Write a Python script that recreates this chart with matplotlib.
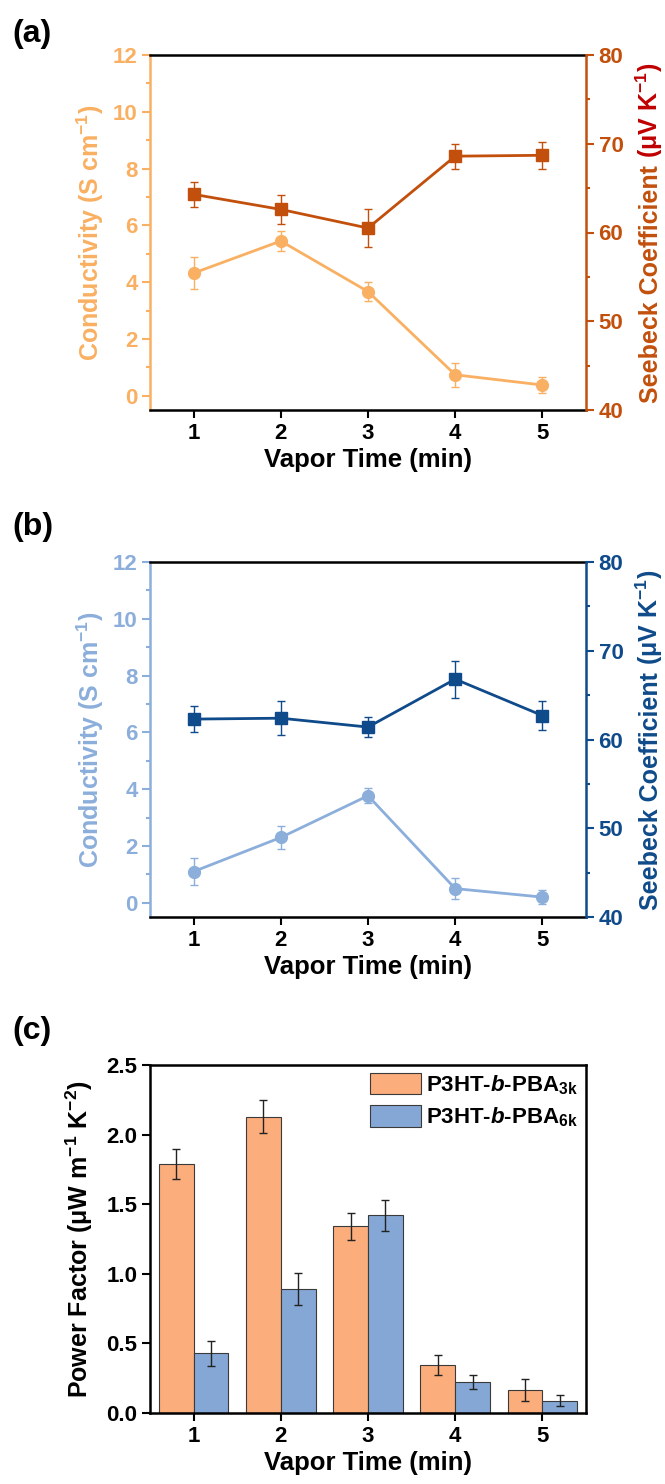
import numpy as np
import matplotlib
matplotlib.use('Agg')
import matplotlib.pyplot as plt
from matplotlib.ticker import MultipleLocator, FormatStrFormatter

plt.rcParams['font.family'] = ['Liberation Sans', 'DejaVu Sans']
plt.rcParams['font.weight'] = 'bold'
plt.rcParams['mathtext.fontset'] = 'custom'
plt.rcParams['mathtext.rm'] = 'Liberation Sans:bold'
plt.rcParams['mathtext.it'] = 'Liberation Sans:bold:italic'
plt.rcParams['mathtext.bf'] = 'Liberation Sans:bold'

# data
vapor_time = [1, 2, 3, 4, 5]

cond_3k = [4.32, 5.45, 3.67, 0.74, 0.38]
cond_3k_err = [0.55, 0.35, 0.32, 0.42, 0.29]
seebeck_3k = [64.3, 62.6, 60.5, 68.6, 68.7]
seebeck_3k_err = [1.4, 1.6, 2.1, 1.4, 1.5]

cond_6k = [1.10, 2.30, 3.77, 0.50, 0.20]
cond_6k_err = [0.47, 0.39, 0.27, 0.37, 0.25]
seebeck_6k = [62.3, 62.4, 61.4, 66.8, 62.7]
seebeck_6k_err = [1.5, 1.9, 1.1, 2.1, 1.6]

pf_3k = [1.79, 2.13, 1.34, 0.345, 0.165]
pf_3k_err = [0.11, 0.12, 0.095, 0.07, 0.08]
pf_6k = [0.43, 0.89, 1.42, 0.222, 0.087]
pf_6k_err = [0.09, 0.117, 0.11, 0.05, 0.04]

legend_labels = [r'P3HT-$\mathit{b}$-PBA$_{\mathrm{3k}}$',
                 r'P3HT-$\mathit{b}$-PBA$_{\mathrm{6k}}$']

W, H = 665, 1484
TICK_FS = 16
LABEL_FS = 18.5


def px_rect(left, top, right, bottom):
    return [left / W, 1 - bottom / H, (right - left) / W, (bottom - top) / H]


def right_label(fig, ax, parts, x_px, fs):
    texts = [fig.text(x_px / W, 0, s, color=c, rotation=90, rotation_mode='anchor',
                      ha='left', va='baseline', fontsize=fs, fontweight='bold')
             for s, c in parts]
    fig.canvas.draw()
    r = fig.canvas.get_renderer()
    lengths = [t.get_window_extent(r).height for t in texts]
    gap = 0.28 * fs * fig.dpi / 72
    total = sum(lengths) + gap * (len(texts) - 1)
    bb = ax.get_position()
    y = (bb.y0 + bb.height / 2) * H - total / 2
    for t, L in zip(texts, lengths):
        t.set_y(y / H)
        y += L + gap


def dual_panel(ax, cond, cond_err, seeb, seeb_err, c_light, c_dark):
    ax.errorbar(vapor_time, cond, yerr=cond_err, fmt='none', ecolor=c_light,
                elinewidth=1, capsize=3, capthick=1, zorder=2)
    ax.plot(vapor_time, cond, 'o-', color=c_light, ms=8.5, lw=2, zorder=3)
    ax.set_xlim(0.5, 5.5)
    ax.set_ylim(-0.5, 12)
    ax.set_xticks(vapor_time)
    ax.set_yticks(range(0, 13, 2))
    ax.yaxis.set_minor_locator(MultipleLocator(1))
    ax.tick_params(axis='y', which='both', colors=c_light, direction='out',
                   labelsize=TICK_FS, width=1.5, pad=3)
    ax.tick_params(axis='y', which='major', length=6)
    ax.tick_params(axis='y', which='minor', length=3)
    ax.tick_params(axis='x', direction='out', length=6, width=1.5, labelsize=TICK_FS)
    for s in ['top', 'bottom']:
        ax.spines[s].set_linewidth(1.8)
    ax.spines['left'].set_color(c_light)
    ax.spines['left'].set_linewidth(1.8)
    ax.spines['right'].set_visible(False)
    ax.set_xlabel('Vapor Time (min)', fontsize=LABEL_FS, fontweight='bold', labelpad=3)
    ax.set_ylabel('Conductivity (S cm$^{-1}$)', fontsize=18,
                  fontweight='bold', color=c_light)
    ax.yaxis.set_label_coords(-0.1, 0.5)

    ax2 = ax.twinx()
    ax2.errorbar(vapor_time, seeb, yerr=seeb_err, fmt='none', ecolor=c_dark,
                 elinewidth=1, capsize=3, capthick=1, zorder=2)
    ax2.plot(vapor_time, seeb, 's-', color=c_dark, ms=8, lw=2, zorder=3)
    ax2.set_ylim(40, 80)
    ax2.set_yticks(range(40, 81, 10))
    ax2.yaxis.set_minor_locator(MultipleLocator(5))
    ax2.tick_params(axis='y', which='both', colors=c_dark, direction='out',
                    labelsize=TICK_FS, width=1.5, pad=3)
    ax2.tick_params(axis='y', which='major', length=6)
    ax2.tick_params(axis='y', which='minor', length=3)
    for s in ['left', 'top', 'bottom']:
        ax2.spines[s].set_visible(False)
    ax2.spines['right'].set_color(c_dark)
    ax2.spines['right'].set_linewidth(1.8)
    return ax2


fig = plt.figure(figsize=(W / 100, H / 100), dpi=100)

light_orange = '#F9B062'
dark_orange = '#C2500C'
unit_red = '#C00000'
light_blue = '#8BAEDB'
navy = '#0F4A8A'
bar_orange = '#FBAD7C'
bar_blue = '#85A7D5'

# (a)
ax_a = fig.add_axes(px_rect(150, 55, 586, 410))
dual_panel(ax_a, cond_3k, cond_3k_err, seebeck_3k, seebeck_3k_err, light_orange, dark_orange)

# (b)
ax_b = fig.add_axes(px_rect(150, 562, 586, 917))
dual_panel(ax_b, cond_6k, cond_6k_err, seebeck_6k, seebeck_6k_err, light_blue, navy)

# (c)
ax_c = fig.add_axes(px_rect(150, 1065, 586, 1413))
x = np.array(vapor_time)
w = 0.4
ekw = dict(elinewidth=1, ecolor='#222222', capthick=1)
ax_c.bar(x - w / 2, pf_3k, w, yerr=pf_3k_err, color=bar_orange, edgecolor='#3a3a3a',
         linewidth=0.8, capsize=3, error_kw=ekw, label=legend_labels[0])
ax_c.bar(x + w / 2, pf_6k, w, yerr=pf_6k_err, color=bar_blue, edgecolor='#3a3a3a',
         linewidth=0.8, capsize=3, error_kw=ekw, label=legend_labels[1])
ax_c.set_xlim(0.5, 5.5)
ax_c.set_ylim(0, 2.5)
ax_c.set_xticks(vapor_time)
ax_c.set_yticks(np.arange(0, 2.51, 0.5))
ax_c.yaxis.set_major_formatter(FormatStrFormatter('%.1f'))
ax_c.tick_params(direction='out', length=6, width=1.5, labelsize=TICK_FS, pad=3)
for s in ax_c.spines.values():
    s.set_linewidth(1.8)
ax_c.set_xlabel('Vapor Time (min)', fontsize=LABEL_FS, fontweight='bold', labelpad=3)
ax_c.set_ylabel(r'Power Factor (μW m$^{-1}$ K$^{-2}$)', fontsize=18, fontweight='bold')
ax_c.yaxis.set_label_coords(-0.125, 0.5)
ax_c.legend(loc='upper right', frameon=False, fontsize=16, handlelength=2.3,
            handleheight=1.1, borderaxespad=0.15, borderpad=0.2, labelspacing=0.4,
            handletextpad=0.25)

# panel letters
fig.text(12 / W, 1 - 34 / H, '(a)', fontsize=23, fontweight='bold', va='center')
fig.text(12 / W, 1 - 527 / H, '(b)', fontsize=23, fontweight='bold', va='center')
fig.text(12 / W, 1 - 1031 / H, '(c)', fontsize=23, fontweight='bold', va='center')

# right-hand labels (unit part drawn separately so it can take its own colour)
right_label(fig, ax_a, [('Seebeck Coefficient', dark_orange),
                        (r'(μV K$^{-1}$)', unit_red)], 658, 18)
right_label(fig, ax_b, [('Seebeck Coefficient', navy),
                        (r'(μV K$^{-1}$)', navy)], 658, 18)

fig.savefig('out.png', dpi=100)
